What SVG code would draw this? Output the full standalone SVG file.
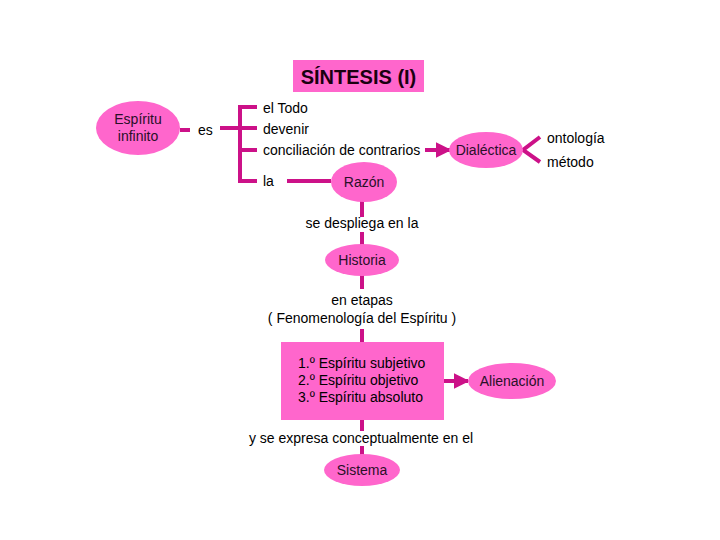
<svg xmlns="http://www.w3.org/2000/svg" width="720" height="540" viewBox="0 0 720 540">
<defs>
<style>
.n{fill:#ff66cc;stroke:none}
.t{font-family:"Liberation Sans",Arial,sans-serif;font-size:14px;fill:#000}
.nt{font-family:"Liberation Sans",Arial,sans-serif;font-size:14px;fill:#2a1028;text-anchor:middle}
.c{stroke:#cc1188;stroke-width:4;fill:none}
.m{text-anchor:middle}
</style>
<marker id="ah" viewBox="0 0 10 10" refX="9" refY="5" markerWidth="4" markerHeight="4" markerUnits="strokeWidth" orient="auto">
<path d="M0,0 L10,5 L0,10 z" fill="#cc1188"/>
</marker>
</defs>
<rect width="720" height="540" fill="#fff"/>
<g id="connectors">
<line class="c" x1="180" y1="130" x2="190" y2="130"/>
<line class="c" x1="220" y1="128" x2="240" y2="128"/>
<polyline class="c" points="257,107 240,107 240,181 257,181"/>
<line class="c" x1="240" y1="128" x2="257" y2="128"/>
<line class="c" x1="240" y1="150" x2="257" y2="150"/>
<line class="c" x1="425" y1="150" x2="450" y2="150" marker-end="url(#ah)"/>
<polyline class="c" points="540,137 523,150 540,162"/>
<line class="c" x1="287" y1="181" x2="331" y2="181"/>
<line class="c" x1="362" y1="200" x2="362" y2="217"/>
<line class="c" x1="362" y1="232" x2="362" y2="246"/>
<line class="c" x1="362" y1="274" x2="362" y2="289"/>
<line class="c" x1="362" y1="329" x2="362" y2="343"/>
<line class="c" x1="444" y1="381" x2="468" y2="381" marker-end="url(#ah)"/>
<line class="c" x1="362" y1="419" x2="362" y2="431"/>
<line class="c" x1="362" y1="446" x2="362" y2="456"/>
</g>
<g id="title">
<rect x="293" y="60" width="131" height="32" fill="#ff66cc"/>
<text x="358.5" y="84" class="m" font-family="Liberation Sans,Arial,sans-serif" font-weight="bold" font-size="20" fill="#1a0010">SÍNTESIS (I)</text>
</g>
<g id="espiritu">
<ellipse class="n" cx="138" cy="128" rx="42" ry="27"/>
<text class="nt" x="138" y="124">Espíritu</text>
<text class="nt" x="138" y="141">infinito</text>
</g>
<g id="es"><text class="t" x="198" y="135">es</text></g>
<g id="eltodo"><text class="t" x="263" y="113">el Todo</text></g>
<g id="devenir"><text class="t" x="263" y="134">devenir</text></g>
<g id="conciliacion"><text class="t" x="263" y="155">conciliación de contrarios</text></g>
<g id="la"><text class="t" x="263" y="186">la</text></g>
<g id="dialectica">
<ellipse class="n" cx="486" cy="150" rx="37" ry="18"/>
<text class="nt" x="486" y="155">Dialéctica</text>
</g>
<g id="ontologia"><text class="t" x="547" y="143">ontología</text></g>
<g id="metodo"><text class="t" x="547" y="167">método</text></g>
<g id="razon">
<ellipse class="n" cx="364" cy="182" rx="33" ry="20"/>
<text class="nt" x="364" y="187">Razón</text>
</g>
<g id="despliega"><text class="t m" x="362" y="228">se despliega en la</text></g>
<g id="historia">
<ellipse class="n" cx="362" cy="260" rx="37" ry="16"/>
<text class="nt" x="362" y="265">Historia</text>
</g>
<g id="etapas">
<text class="t m" x="362" y="305">en etapas</text>
<text class="t m" x="362" y="323">( Fenomenología del Espíritu )</text>
</g>
<g id="espiritus">
<rect class="n" x="281" y="342" width="163" height="78"/>
<text class="t" x="298" y="368" fill="#2a1028">1.º Espíritu subjetivo</text>
<text class="t" x="298" y="385" fill="#2a1028">2.º Espíritu objetivo</text>
<text class="t" x="298" y="402" fill="#2a1028">3.º Espíritu absoluto</text>
</g>
<g id="alienacion">
<ellipse class="n" cx="512" cy="381" rx="44" ry="18"/>
<text class="nt" x="512" y="386">Alienación</text>
</g>
<g id="expresa"><text class="t m" x="361" y="443">y se expresa conceptualmente en el</text></g>
<g id="sistema">
<ellipse class="n" cx="362" cy="470" rx="38" ry="16"/>
<text class="nt" x="362" y="475">Sistema</text>
</g>
</svg>
